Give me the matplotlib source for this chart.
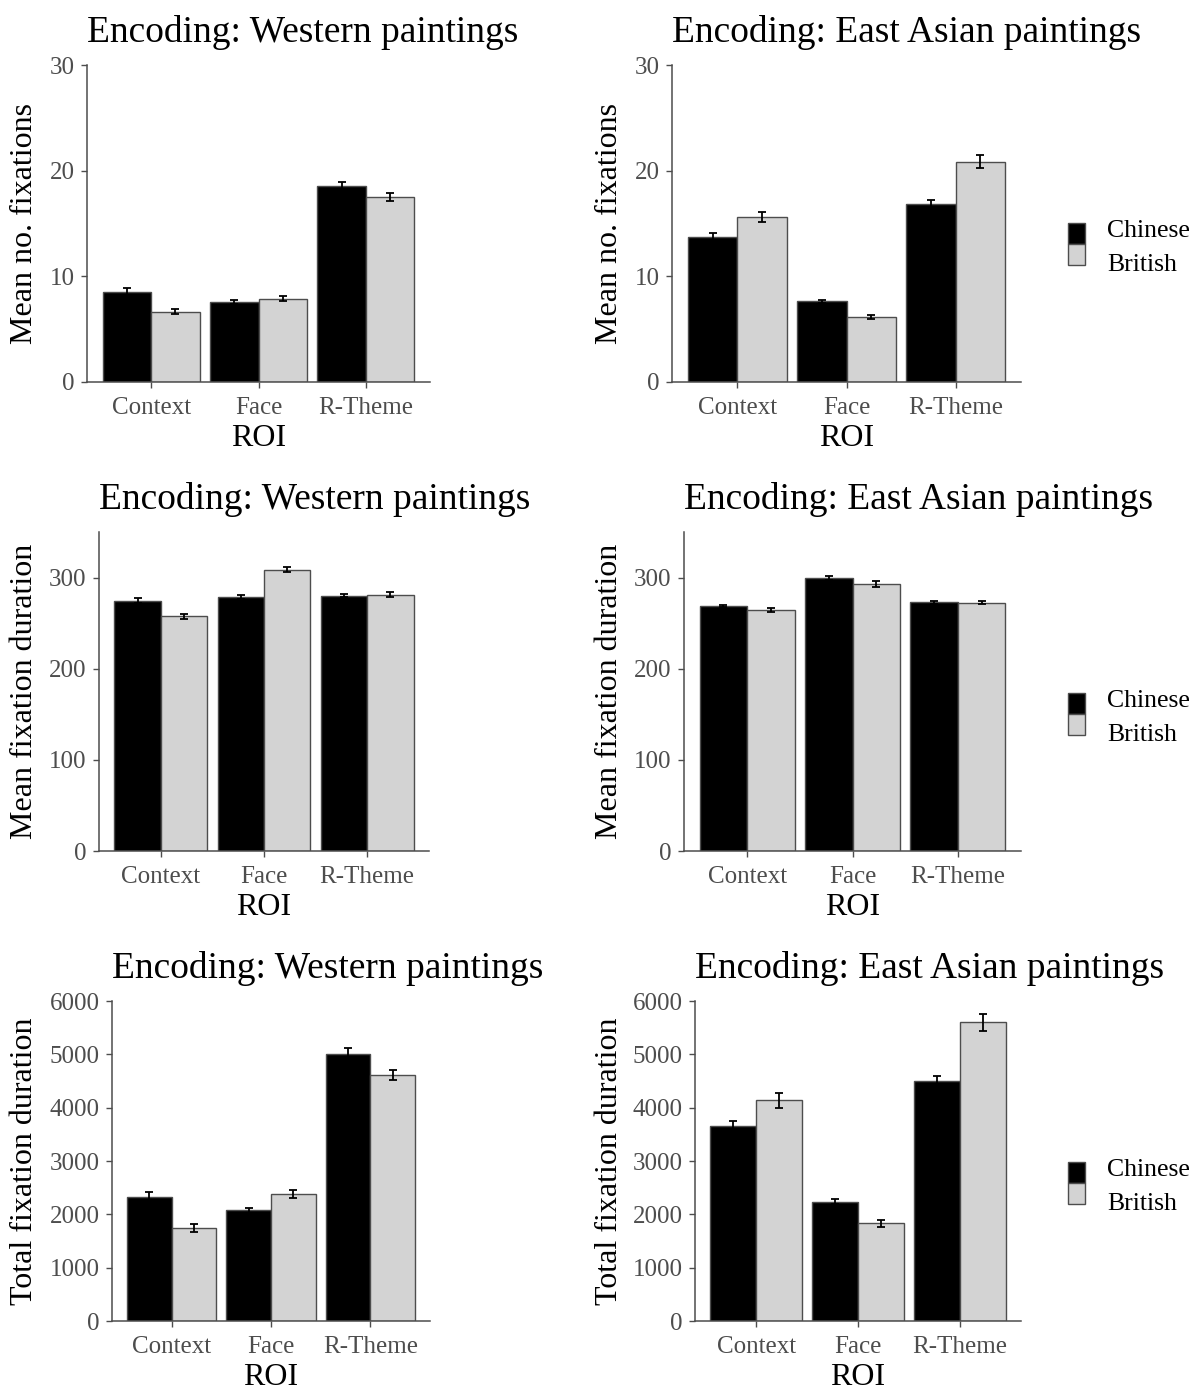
import numpy as np
import matplotlib
matplotlib.use('Agg')
import matplotlib.pyplot as plt
from matplotlib.patches import Rectangle

plt.rcParams['font.family'] = ['Liberation Serif', 'DejaVu Serif']

rois = ['Context', 'Face', 'R-Theme']
groups = ['Chinese', 'British']

# mean number of fixations
nfix_west_cn = [8.56, 7.59, 18.51]
nfix_west_cn_se = [0.30, 0.18, 0.42]
nfix_west_uk = [6.64, 7.90, 17.53]
nfix_west_uk_se = [0.25, 0.24, 0.39]
nfix_east_cn = [13.75, 7.62, 16.87]
nfix_east_cn_se = [0.33, 0.15, 0.31]
nfix_east_uk = [15.64, 6.17, 20.84]
nfix_east_uk_se = [0.47, 0.20, 0.60]

# mean fixation duration
mfd_west_cn = [274.8, 279.2, 280.3]
mfd_west_cn_se = [2.5, 2.2, 1.6]
mfd_west_uk = [257.6, 308.5, 281.4]
mfd_west_uk_se = [2.9, 2.9, 2.4]
mfd_east_cn = [268.9, 300.0, 273.0]
mfd_east_cn_se = [1.5, 2.2, 1.5]
mfd_east_uk = [264.2, 292.7, 272.6]
mfd_east_uk_se = [2.2, 3.1, 2.0]

# total fixation duration
tfd_west_cn = [2328, 2078, 5000]
tfd_west_cn_se = [88, 50, 113]
tfd_west_uk = [1746, 2384, 4606]
tfd_west_uk_se = [78, 75, 94]
tfd_east_cn = [3648, 2240, 4500]
tfd_east_cn_se = [94, 44, 88]
tfd_east_uk = [4136, 1833, 5601]
tfd_east_uk_se = [134, 63, 163]

W, H = 1198, 1387
fig = plt.figure(figsize=(W / 100, H / 100), dpi=100)

GREY = '#4D4D4D'
FILL_CN = 'black'
FILL_UK = '#D3D3D3'
fills = [FILL_CN, FILL_UK]


def draw_legend(dy):
    # ggplot-style legend: stacked keys, labels to the right
    key_tops = [223 + dy, 244 + dy]
    baselines = [237 + dy, 271 + dy]
    for top, base, fc, lab in zip(key_tops, baselines, fills, groups):
        fig.add_artist(Rectangle((1068 / W, 1 - (top + 21) / H), 17 / W, 21 / H,
                                 transform=fig.transFigure, facecolor=fc,
                                 edgecolor=GREY, linewidth=1.0))
        fig.text(1107 / W, 1 - base / H, lab, fontsize=18.5, va='baseline', ha='left')


def panel(box, cn, cn_se, uk, uk_se, ylim, yticks, ylabel, title, ylab_x):
    x0, x1, ytop, ybot = box
    ax = fig.add_axes([x0 / W, 1 - ybot / H, (x1 - x0) / W, (ybot - ytop) / H])
    x = np.arange(1, len(rois) + 1)
    w = 0.45
    ax.bar(x - w / 2, cn, width=w, color=FILL_CN, edgecolor=GREY, linewidth=1.0, zorder=2)
    ax.bar(x + w / 2, uk, width=w, color=FILL_UK, edgecolor=GREY, linewidth=1.0, zorder=2)
    ax.errorbar(x - w / 2, cn, yerr=cn_se, fmt='none', ecolor='black',
                elinewidth=1.3, capsize=2.6, capthick=1.3, zorder=3)
    ax.errorbar(x + w / 2, uk, yerr=uk_se, fmt='none', ecolor='black',
                elinewidth=1.3, capsize=2.6, capthick=1.3, zorder=3)
    ax.set_xlim(0.4, 3.6)
    ax.set_ylim(*ylim)
    ax.set_yticks(yticks)
    ax.set_xticks(x)
    ax.set_xticklabels(rois)
    for s in ['top', 'right']:
        ax.spines[s].set_visible(False)
    for s in ['left', 'bottom']:
        ax.spines[s].set_color(GREY)
        ax.spines[s].set_linewidth(1.1)
    ax.tick_params(colors=GREY, labelcolor=GREY, labelsize=18, length=4.5, width=1.0, pad=6)
    ax.tick_params(axis='y', pad=4.5)
    ax.set_xlabel('ROI', fontsize=23, labelpad=4)
    ax.set_ylabel(ylabel, fontsize=23)
    ax.yaxis.set_label_coords((ylab_x + 17 - x0) / (x1 - x0), 0.5)
    ax.set_title(title, fontsize=27, loc='left', pad=16.5)
    return ax


panel((87, 430, 65, 382), nfix_west_cn, nfix_west_cn_se, nfix_west_uk, nfix_west_uk_se,
      (0, 30), [0, 10, 20, 30], 'Mean no. fixations', 'Encoding: Western paintings', 22)
panel((672, 1021, 65, 382), nfix_east_cn, nfix_east_cn_se, nfix_east_uk, nfix_east_uk_se,
      (0, 30), [0, 10, 20, 30], 'Mean no. fixations', 'Encoding: East Asian paintings', 607)
draw_legend(0)

panel((99, 429, 532, 851), mfd_west_cn, mfd_west_cn_se, mfd_west_uk, mfd_west_uk_se,
      (0, 350), [0, 100, 200, 300], 'Mean fixation duration', 'Encoding: Western paintings', 22)
panel((684, 1021, 532, 851), mfd_east_cn, mfd_east_cn_se, mfd_east_uk, mfd_east_uk_se,
      (0, 350), [0, 100, 200, 300], 'Mean fixation duration', 'Encoding: East Asian paintings', 607)
draw_legend(470)

panel((112, 430, 1001, 1321), tfd_west_cn, tfd_west_cn_se, tfd_west_uk, tfd_west_uk_se,
      (0, 6000), [0, 1000, 2000, 3000, 4000, 5000, 6000], 'Total fixation duration',
      'Encoding: Western paintings', 22)
panel((695, 1021, 1001, 1321), tfd_east_cn, tfd_east_cn_se, tfd_east_uk, tfd_east_uk_se,
      (0, 6000), [0, 1000, 2000, 3000, 4000, 5000, 6000], 'Total fixation duration',
      'Encoding: East Asian paintings', 607)
draw_legend(939)

fig.savefig('out.png', dpi=100)
